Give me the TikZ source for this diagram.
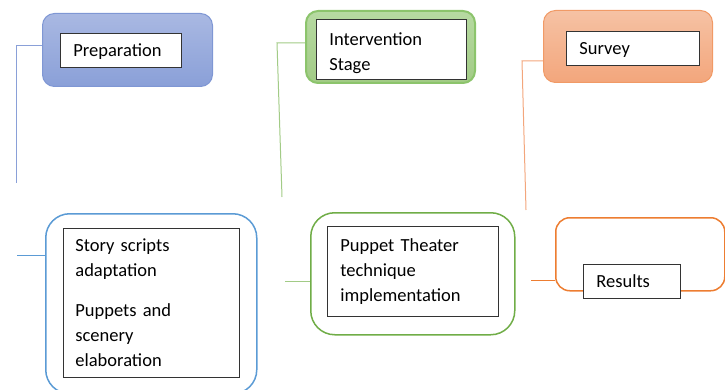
\documentclass[tikz,border=0pt]{standalone}
\usepackage{fontspec}
\setmainfont{Carlito}
\usetikzlibrary{positioning}
\definecolor{blueA}{HTML}{A9B8E2}
\definecolor{blueB}{HTML}{8AA0D8}
\definecolor{blueE}{HTML}{7F97D4}
\definecolor{blueL}{HTML}{5B9BD5}
\definecolor{greenA}{HTML}{B7DAA2}
\definecolor{greenB}{HTML}{A2CB86}
\definecolor{greenE}{HTML}{8CC46C}
\definecolor{greenL}{HTML}{70AD47}
\definecolor{orangeA}{HTML}{F6C2A4}
\definecolor{orangeB}{HTML}{F3A67C}
\definecolor{orangeE}{HTML}{F19A66}
\definecolor{orangeL}{HTML}{ED7D31}
\tikzset{
  stage/.style={anchor=north west, rounded corners=12pt, line width=1pt,
    inner sep=0pt},
  step box/.style={anchor=north west, rounded corners=24pt, line width=1.5pt,
    fill=white, inner sep=0pt},
  label box/.style={anchor=north west, draw=black!80, fill=white, line width=0.8pt,
    inner xsep=13pt, inner ysep=0pt, align=left,
    font=\fontsize{18.5}{25}\selectfont},
  low text/.style={text depth=0pt},
  link/.style={line width=1pt}
}
\begin{document}
\begin{tikzpicture}[x=1pt,y=-1pt]
   \useasboundingbox (0,0) rectangle (725,390);
   % top row
   \node[stage, draw=blueE, top color=blueA, bottom color=blueB,
     minimum width=170pt, minimum height=73pt] (prep) at (42,13) {};
   \node[label box, low text, text width=95pt, minimum height=34pt] (prept) at (60,33) {Preparation};
   \node[stage, draw=greenE, line width=2pt, top color=greenA, bottom color=greenB,
     minimum width=169pt, minimum height=72pt] (interv) at (305,10) {};
   \node[label box, text width=124pt, minimum height=60pt] (intervt) at (316,19)
     {\rule{0pt}{20pt}Intervention\\Stage};
   \node[stage, draw=orangeE, top color=orangeA, bottom color=orangeB,
     minimum width=169pt, minimum height=72pt] (survey) at (543,10) {};
   \node[label box, low text, text width=107pt, minimum height=34pt] (surveyt) at (566,31) {Survey};
   % bottom row
   \node[step box, draw=blueL, minimum width=211pt, minimum height=180pt] (story) at (45,213) {};
   \node[label box, text width=152pt, minimum height=149pt, inner xsep=12pt] (storyt) at (63,228)
     {Story scripts\\adaptation\\[15pt]Puppets and\\scenery\\elaboration};
   \node[step box, draw=greenL, minimum width=204pt, minimum height=122pt] (puppet) at (310,212) {};
   \node[label box, text width=145pt, minimum height=90pt] (puppett) at (327,226)
     {Puppet Theater\\technique\\implementation};
   \node[step box, draw=orangeL, rounded corners=14pt, minimum width=169pt, minimum height=73pt] (results) at (555,217) {};
   \node[label box, low text, text width=71pt, minimum height=34pt] (resultst) at (583,264) {Results};
   % connectors
   \coordinate (prepL) at (16,46);
   \coordinate (prepB) at (16,183);
   \draw[link, blueB] (prep.west |- prepL) -- (prepL) -- (prepB);
   \coordinate (intervL) at (277,43);
   \coordinate (intervB) at (282,197);
   \draw[link, greenB] (interv.west |- intervL) -- (intervL) -- (intervB);
   \coordinate (surveyL) at (522,61);
   \coordinate (surveyB) at (526,210);
   \draw[link, orangeB] (survey.west |- surveyL) -- (surveyL) -- (surveyB);
   \coordinate (storyL) at (17,255);
   \draw[link, blueL] (story.west |- storyL) -- (storyL);
   \coordinate (puppetL) at (285,281);
   \draw[link, greenB] (puppet.west |- puppetL) -- (puppetL);
   \coordinate (resultsL) at (531,280);
   \draw[link, orangeL] (results.west |- resultsL) -- (resultsL);
\end{tikzpicture}
\end{document}
